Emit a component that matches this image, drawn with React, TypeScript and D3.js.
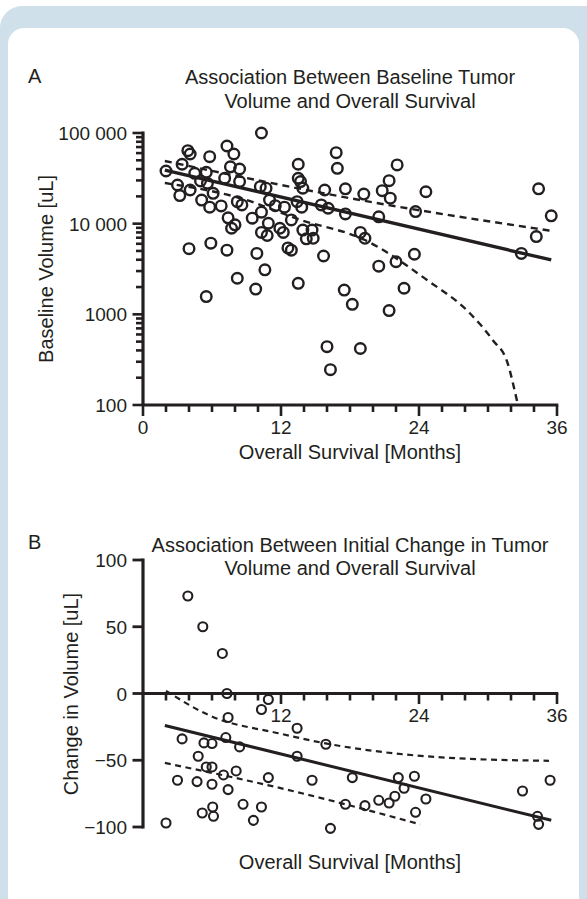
import React from 'react';
import * as d3 from 'd3';

const FONT = '"Liberation Sans", Arial, Helvetica, sans-serif';
const INK = '#231f20';

// ---- Panel A: baseline tumor volume (uL) vs overall survival (months) ----
const survivalA = [
  10.3, 3.9, 4.1, 5.8, 7.3, 7.9, 3.4, 2.0, 4.5, 5.5, 7.6, 8.4, 13.5, 16.8, 16.9, 3.0, 4.1, 3.2, 5.0, 5.6,
  5.1, 6.1, 7.1, 8.4, 5.8, 6.8, 8.2, 8.6, 7.4, 8.0, 7.7, 10.2, 10.7, 9.5, 10.3, 11.0, 11.5, 10.9, 10.3, 10.8,
  11.9, 12.2, 12.3, 12.9, 13.5, 13.7, 13.9, 13.4, 13.8, 13.9, 14.7, 14.2, 14.8, 15.8, 15.5, 16.1, 17.6, 17.6, 19.2, 18.9,
  19.3, 4.0, 5.9, 7.3, 9.9, 12.6, 12.9, 15.7, 10.6, 8.2, 9.8, 13.5, 5.5, 17.5, 18.2, 16.0, 18.9, 16.3, 22.1, 21.4,
  20.8, 21.5, 24.6, 20.5, 23.7, 22.0, 23.6, 20.5, 22.7, 21.4, 34.4, 35.5, 34.2, 32.9,
];
const volumeA = [
  100000, 63800, 58700, 54800, 71900, 58700, 45200, 38100, 35900, 36900, 42400, 40100, 45200, 60700, 40800, 26700, 23500, 20400, 29600, 27900,
  18200, 21600, 31700, 29100, 15200, 15700, 17500, 16100, 11600, 9700, 8900, 25600, 24600, 11500, 13400, 18200, 15800, 10100, 8000, 7400,
  8900, 8000, 15200, 11000, 31700, 29100, 24600, 17500, 15200, 8500, 8500, 6800, 6900, 23500, 16100, 14800, 24200, 12800, 21200, 8000,
  6900, 5300, 6100, 5100, 4700, 5400, 5100, 4400, 3100, 2500, 1900, 2200, 1570, 1850, 1290, 440, 420, 245, 44400, 29800,
  23100, 19100, 22500, 11900, 13600, 3800, 4600, 3400, 1940, 1100, 24200, 12200, 7200, 4700,
];

// fitted line and dashed bands
const fitMonthsA = [1.9, 35.5];
const fitVolumeA = [39000, 3980];
const upperMonthsA = [1.9, 18.9, 35.6];
const upperVolumeA = [49100, 18200, 8300];
const lowerMonthsA = [1.9, 8.4, 13.7, 19.3, 24.7, 28.4, 30.4, 31.7, 32.5, 32.6];
const lowerVolumeA = [28100, 19200, 11000, 6600, 2390, 1035, 522, 291, 114, 100];

const monthTicks = [0, 12, 24, 36];
const volumeTicks = [100, 1000, 10000, 100000];
const volumeTickLabels = ['100', '1000', '10 000', '100 000'];

// ---- Panel B: initial change in tumor volume (uL) vs overall survival ----
const survivalB = [
  3.9, 5.2, 6.9, 7.3, 10.9, 10.3, 7.4, 13.4, 3.4, 5.3, 6.0, 7.2, 8.4, 13.4, 4.8, 15.9,
  2.0, 3.0, 4.7, 6.0, 7.0, 7.4, 5.15, 6.06, 6.13, 8.7, 10.3, 9.6, 10.9, 14.7, 16.3, 18.2,
  17.6, 19.3, 20.5, 21.4, 21.9, 22.7, 22.2, 23.6, 24.6, 23.7, 33.0, 35.4, 34.3, 34.4, 5.5, 6.0, 8.1,
];
const changeB = [
  73, 50, 30, 0, -4.5, -12, -18, -26, -34, -37, -37.5, -33, -40, -47, -47, -38,
  -97, -65, -66, -68, -61, -72, -89.5, -85, -92, -83, -85, -95, -63, -65, -101, -63,
  -83, -84, -80, -82, -77, -71, -63, -62, -79, -89, -73, -65, -92, -98, -55, -55, -58,
];
const fitMonthsB = [1.9, 35.5];
const fitChangeB = [-24, -95];
const upperMonthsB = [2.0, 5.8, 11.9, 16.0, 20.6, 26.4, 35.3];
const upperChangeB = [2, -16.5, -30, -37.6, -43.6, -48.1, -50.4];
const lowerMonthsB = [1.9, 13, 24.1];
const lowerChangeB = [-52, -73, -98];
const changeTicks = [-100, -50, 0, 50, 100];

const W = 587;
const H = 899;

const x = d3.scaleLinear().domain([0, 36]).range([143, 557]);
const yA = d3.scaleLog().domain([100, 100000]).range([405, 133]);
const yB = d3.scaleLinear().domain([-100, 100]).range([827, 560]);
const monthMinor = d3.range(0, 37, 2);

const lineA = d3.line<[number, number]>().x(d => x(d[0])).y(d => yA(d[1])).curve(d3.curveMonotoneX);
const lineB = d3.line<[number, number]>().x(d => x(d[0])).y(d => yB(d[1])).curve(d3.curveMonotoneX);

const txt = { fontFamily: FONT, fill: INK } as const;

export default function App() {
  const isDecade = (v: number) => Math.abs(Math.log10(v) - Math.round(Math.log10(v))) < 1e-9;

  return (
    <svg width={W} height={H} style={{ position: 'absolute', left: 0, top: 0, display: 'block' }}>
      {/* frame */}
      <rect x={0} y={0} width={W} height={H} fill="#fff" />
      <rect x={0} y={6} width={W + 30} height={H + 30} rx={22} fill="#cfe0ea" />
      <rect x={8} y={28} width={571} height={H} rx={16} fill="#fff" />

      {/* ===== Panel A ===== */}
      <text x={28} y={83} fontSize={20} {...txt}>A</text>
      <text x={350} y={84} fontSize={20} textAnchor="middle" {...txt}>Association Between Baseline Tumor</text>
      <text x={350} y={108} fontSize={20} textAnchor="middle" {...txt}>Volume and Overall Survival</text>

      {yA.ticks().map(v => (
        <line key={'ya' + v} x1={143} x2={143 - (isDecade(v) ? 10.5 : 7)} y1={yA(v)} y2={yA(v)} stroke={INK} strokeWidth={2.6} />
      ))}
      {monthMinor.map(m => (
        <line key={'xa' + m} x1={x(m)} x2={x(m)} y1={405} y2={405 + (m % 12 === 0 ? 11 : 7)} stroke={INK} strokeWidth={2.6} />
      ))}
      <line x1={143} x2={143} y1={yA(100000) - 1.5} y2={405} stroke={INK} strokeWidth={3.2} />
      <line x1={143} x2={x(36) + 1.3} y1={405} y2={405} stroke={INK} strokeWidth={3.2} />

      {volumeTicks.map((v, i) => (
        <text key={'yla' + v} x={127} y={yA(v) + 7} fontSize={19} textAnchor="end" {...txt}>{volumeTickLabels[i]}</text>
      ))}
      {monthTicks.map(m => (
        <text key={'xla' + m} x={x(m)} y={434} fontSize={19} textAnchor="middle" {...txt}>{m}</text>
      ))}
      <text x={350} y={459} fontSize={20} textAnchor="middle" {...txt}>Overall Survival [Months]</text>
      <text transform="translate(53,269) rotate(-90)" fontSize={20} textAnchor="middle" {...txt}>Baseline Volume [uL]</text>

      <path d={lineA(d3.zip(upperMonthsA, upperVolumeA) as [number, number][]) || ''} fill="none" stroke={INK} strokeWidth={2.4} strokeDasharray="7 5" />
      <path d={lineA(d3.zip(lowerMonthsA, lowerVolumeA) as [number, number][]) || ''} fill="none" stroke={INK} strokeWidth={2.4} strokeDasharray="7 5" />
      <path d={lineA(d3.zip(fitMonthsA, fitVolumeA) as [number, number][]) || ''} fill="none" stroke={INK} strokeWidth={3.4} />
      {survivalA.map((m, i) => (
        <circle key={'pa' + i} cx={x(m)} cy={yA(volumeA[i])} r={5.3} fill="none" stroke={INK} strokeWidth={2.4} />
      ))}

      {/* ===== Panel B ===== */}
      <text x={28} y={549} fontSize={20} {...txt}>B</text>
      <text x={350} y={552} fontSize={20} textAnchor="middle" {...txt}>Association Between Initial Change in Tumor</text>
      <text x={350} y={575} fontSize={20} textAnchor="middle" {...txt}>Volume and Overall Survival</text>

      {changeTicks.map(v => (
        <line key={'yb' + v} x1={143} x2={132.5} y1={yB(v)} y2={yB(v)} stroke={INK} strokeWidth={2.8} />
      ))}
      {monthMinor.filter(m => m > 0).map(m => (
        <line key={'xb' + m} x1={x(m)} x2={x(m)} y1={yB(0)} y2={yB(0) + (m % 12 === 0 ? 10.5 : 7)} stroke={INK} strokeWidth={2.6} />
      ))}
      <line x1={143} x2={143} y1={yB(100) - 1.4} y2={yB(-100) + 1.4} stroke={INK} strokeWidth={3.2} />
      <line x1={143} x2={x(36) + 1.3} y1={yB(0)} y2={yB(0)} stroke={INK} strokeWidth={3.2} />

      {changeTicks.map(v => (
        <text key={'ylb' + v} x={127} y={yB(v) + 7} fontSize={19} textAnchor="end" {...txt}>{v < 0 ? '\u2212' + Math.abs(v) : v}</text>
      ))}
      {monthTicks.filter(m => m > 0).map(m => (
        <text key={'xlb' + m} x={x(m)} y={722} fontSize={19} textAnchor="middle" {...txt}>{m}</text>
      ))}
      <text x={350} y={869} fontSize={20} textAnchor="middle" {...txt}>Overall Survival [Months]</text>
      <text transform="translate(78,694) rotate(-90)" fontSize={20} textAnchor="middle" {...txt}>Change in Volume [uL]</text>

      <path d={lineB(d3.zip(upperMonthsB, upperChangeB) as [number, number][]) || ''} fill="none" stroke={INK} strokeWidth={2.2} strokeDasharray="6 4.5" />
      <path d={lineB(d3.zip(lowerMonthsB, lowerChangeB) as [number, number][]) || ''} fill="none" stroke={INK} strokeWidth={2.2} strokeDasharray="6 4.5" />
      <path d={lineB(d3.zip(fitMonthsB, fitChangeB) as [number, number][]) || ''} fill="none" stroke={INK} strokeWidth={3} />
      {survivalB.map((m, i) => (
        <circle key={'pb' + i} cx={x(m)} cy={yB(changeB[i])} r={4.5} fill="none" stroke={INK} strokeWidth={2.1} />
      ))}
    </svg>
  );
}
